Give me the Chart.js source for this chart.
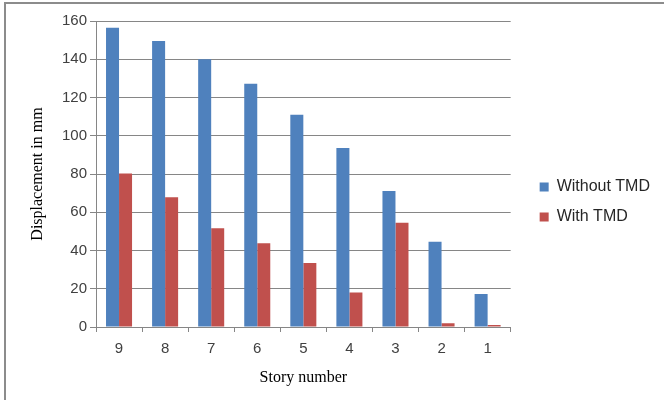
<!DOCTYPE html>
<html>
<head>
<meta charset="utf-8">
<script src="https://cdn.jsdelivr.net/npm/chart.js@4/dist/chart.umd.min.js"></script>
<style>
  html, body { margin: 0; padding: 0; background: #fff; }
  #wrap { position: relative; width: 664px; height: 400px; }
  #frame { position: absolute; left: 4px; top: 2px; right: -4px; bottom: -4px; border-left: 2px solid #8c8c8c; border-top: 2px solid #8c8c8c; pointer-events: none; }
</style>
</head>
<body>
<div id="wrap">
  <canvas id="chart" width="664" height="400"></canvas>
  <div id="frame"></div>
</div>
<script>
// story numbers, top floor first
const stories = ['9', '8', '7', '6', '5', '4', '3', '2', '1'];
const withoutTMD = [156.5, 149.5, 140, 127.2, 111, 93.6, 71.1, 44.6, 17.3];
const withTMD = [80.2, 67.8, 51.6, 43.8, 33.5, 18.1, 54.5, 1.9, 1.0];
const yTicks = [0, 20, 40, 60, 80, 100, 120, 140, 160];

// push the legend a bit away from the plot, like the excel original
const legendShift = {
    id: 'legendShift',
    afterLayout: function (chart) {
        const lg = chart.legend;
        lg.left += 15;
        lg.right += 15;
        lg.top -= 2;
        lg.bottom -= 2;
    },
};

const ctx = document.getElementById('chart').getContext('2d');

new Chart(ctx, {
    type: 'bar',
    data: {
        labels: stories,
        datasets: [
            {
                label: 'Without TMD',
                data: withoutTMD,
                backgroundColor: '#4F81BD',
                categoryPercentage: 0.565,
                barPercentage: 1.0,
            },
            {
                label: 'With TMD',
                data: withTMD,
                backgroundColor: '#C0504D',
                categoryPercentage: 0.565,
                barPercentage: 1.0,
            },
        ],
    },
    plugins: [legendShift],
    options: {
        responsive: false,
        animation: false,
        layout: {
            padding: { top: 21, left: 0, right: 19, bottom: 13 },
        },
        plugins: {
            legend: {
                position: 'right',
                labels: {
                    boxWidth: 9,
                    boxHeight: 9,
                    padding: 14,
                    color: '#262626',
                    font: { family: 'Liberation Sans', size: 16 },
                },
            },
            tooltip: { enabled: false },
        },
        scales: {
            x: {
                grid: {
                    offset: true,
                    drawOnChartArea: false,
                    tickLength: 5,
                    color: '#868686',
                },
                border: { color: '#868686' },
                ticks: {
                    color: '#404040',
                    padding: 8,
                    font: { family: 'Liberation Sans', size: 15 },
                },
                title: {
                    display: true,
                    text: 'Story number',
                    color: '#000',
                    font: { family: 'Liberation Serif', size: 16 },
                    padding: { top: 4, bottom: 0 },
                },
                afterFit: function (scale) { scale.height = 60; },
            },
            y: {
                min: 0,
                max: 160,
                afterBuildTicks: function (scale) {
                    scale.ticks = yTicks.map(v => ({ value: v }));
                },
                grid: {
                    color: '#868686',
                    tickLength: 6,
                },
                border: { color: '#868686' },
                ticks: {
                    color: '#404040',
                    padding: 3,
                    font: { family: 'Liberation Sans', size: 15 },
                },
                title: {
                    display: true,
                    text: 'Displacement in mm',
                    color: '#000',
                    font: { family: 'Liberation Serif', size: 16 },
                    padding: { top: 28, bottom: 0 },
                },
                afterFit: function (scale) { scale.width = 96; },
            },
        },
    },
});
</script>
</body>
</html>
